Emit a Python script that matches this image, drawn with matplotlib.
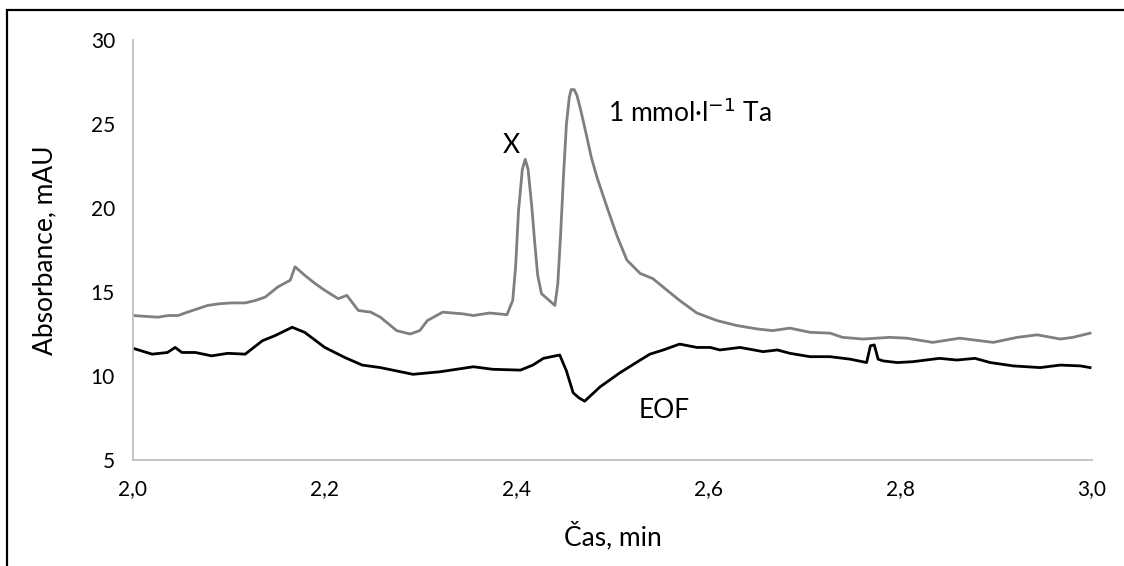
import matplotlib.pyplot as plt
from matplotlib.patches import Rectangle
from matplotlib.ticker import FuncFormatter

plt.rcParams['font.family'] = ['Lato', 'DejaVu Sans']

# 1 mmol/l Ta (grey trace)
ta_x = [2.000, 2.013, 2.026, 2.037, 2.047, 2.062, 2.078, 2.090, 2.103, 2.117,
        2.128, 2.138, 2.151, 2.164, 2.169, 2.179, 2.190, 2.200, 2.214, 2.223,
        2.235, 2.248, 2.258, 2.275, 2.289, 2.299, 2.307, 2.315, 2.323, 2.344,
        2.355, 2.372, 2.390, 2.396, 2.399, 2.402, 2.406, 2.409, 2.412, 2.416,
        2.419, 2.422, 2.426, 2.432, 2.440, 2.443, 2.446, 2.449, 2.452, 2.455,
        2.457, 2.460, 2.463, 2.467, 2.473, 2.478, 2.484, 2.494, 2.505, 2.515,
        2.529, 2.542, 2.557, 2.570, 2.588, 2.609, 2.630, 2.651, 2.667, 2.685,
        2.706, 2.727, 2.740, 2.761, 2.789, 2.807, 2.834, 2.862, 2.897, 2.922,
        2.943, 2.967, 2.980, 2.998]
ta_y = [13.6, 13.55, 13.5, 13.6, 13.6, 13.9, 14.2, 14.3, 14.35, 14.35,
        14.5, 14.7, 15.3, 15.7, 16.5, 16.0, 15.5, 15.1, 14.6, 14.8,
        13.9, 13.8, 13.5, 12.7, 12.5, 12.7, 13.3, 13.55, 13.8, 13.7,
        13.6, 13.75, 13.65, 14.5, 16.5, 19.8, 22.3, 22.9, 22.3, 20.0,
        17.9, 16.0, 14.9, 14.6, 14.2, 15.5, 18.5, 22.0, 25.0, 26.6,
        27.05, 27.05, 26.7, 25.8, 24.3, 23.0, 21.8, 20.1, 18.3, 16.9,
        16.1, 15.8, 15.1, 14.5, 13.75, 13.3, 13.0, 12.8, 12.7, 12.85,
        12.6, 12.55, 12.3, 12.2, 12.3, 12.25, 12.0, 12.25, 12.0, 12.3,
        12.45, 12.2, 12.3, 12.55]

# EOF (black trace)
eof_x = [2.000, 2.020, 2.036, 2.044, 2.051, 2.065, 2.082, 2.099, 2.117, 2.135,
         2.148, 2.166, 2.179, 2.200, 2.221, 2.239, 2.258, 2.292, 2.320, 2.355,
         2.375, 2.404, 2.417, 2.428, 2.445, 2.452, 2.459, 2.465, 2.471, 2.487,
         2.508, 2.529, 2.539, 2.553, 2.570, 2.588, 2.602, 2.612, 2.633, 2.657,
         2.672, 2.685, 2.706, 2.727, 2.748, 2.765, 2.769, 2.773, 2.777, 2.782,
         2.797, 2.813, 2.841, 2.859, 2.878, 2.894, 2.918, 2.946, 2.967, 2.988,
         2.998]
eof_y = [11.65, 11.3, 11.4, 11.7, 11.4, 11.4, 11.2, 11.35, 11.3, 12.1,
         12.4, 12.9, 12.6, 11.7, 11.1, 10.65, 10.5, 10.1, 10.25, 10.55,
         10.4, 10.35, 10.65, 11.05, 11.25, 10.3, 9.0, 8.7, 8.5, 9.35,
         10.2, 10.95, 11.3, 11.55, 11.9, 11.7, 11.7, 11.55, 11.7, 11.45,
         11.55, 11.35, 11.15, 11.15, 11.0, 10.8, 11.8, 11.85, 11.0, 10.9,
         10.8, 10.85, 11.05, 10.95, 11.05, 10.8, 10.6, 10.5, 10.65, 10.6,
         10.5]

x_ticks = [2.0, 2.2, 2.4, 2.6, 2.8, 3.0]
y_ticks = [5, 10, 15, 20, 25, 30]

fig = plt.figure(figsize=(11.24, 5.66), dpi=100)
ax = fig.add_axes([0.1183, 0.1873, 0.8532, 0.742])

ax.plot(ta_x, ta_y, color='#7f7f7f', lw=2.0, solid_joinstyle='round')
ax.plot(eof_x, eof_y, color='black', lw=2.0, solid_joinstyle='round')

ax.set_xlim(2.0, 3.0)
ax.set_ylim(5, 30)
ax.set_xticks(x_ticks)
ax.set_yticks(y_ticks)
ax.xaxis.set_major_formatter(FuncFormatter(lambda v, p: f'{v:.1f}'.replace('.', ',')))
ax.tick_params(axis='x', length=0, labelsize=15, pad=14)
ax.tick_params(axis='y', length=0, labelsize=15, pad=13)

for s in ['top', 'right']:
    ax.spines[s].set_visible(False)
for s in ['left', 'bottom']:
    ax.spines[s].set_color('#bfbfbf')
    ax.spines[s].set_linewidth(1.3)

ax.set_xlabel('Čas, min', fontsize=19, labelpad=16)
ax.set_ylabel('Absorbance, mAU', fontsize=19, labelpad=24)

ax.text(2.386, 23.75, 'X', fontsize=19, va='center')
ax.text(2.495, 25.65, '1 mmol·l$^{\u22121}$ Ta', fontsize=19, va='center')
ax.text(2.527, 7.95, 'EOF', fontsize=19, va='center')

# outer frame (only left and top edges visible in the crop)
fig.patches.append(Rectangle((7 / 1124, -0.1), 1.2, (566 - 10) / 566 + 0.1,
                             transform=fig.transFigure, fill=False,
                             edgecolor='black', lw=1.6))

fig.savefig('out.png', dpi=100)
